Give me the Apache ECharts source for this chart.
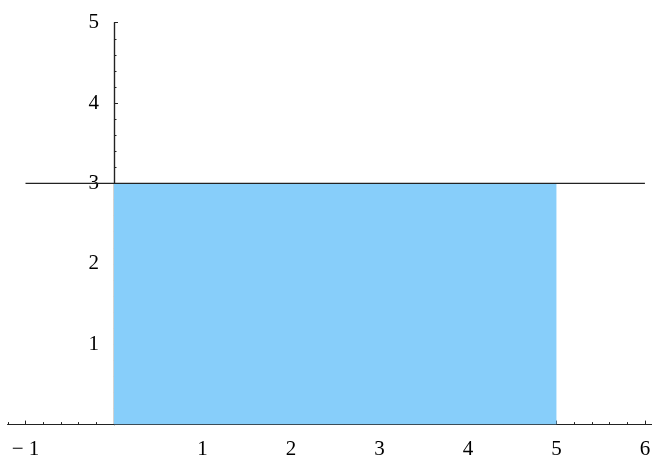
<!DOCTYPE html>
<html>
<head>
<meta charset="utf-8">
<script src="https://cdn.jsdelivr.net/npm/echarts@6/dist/echarts.min.js"></script>
<style>
html,body{margin:0;padding:0;background:#fff;}
#main{width:652px;height:457px;}
</style>
</head>
<body>
<div id="main"></div>
<script>
// Data
const rectX = [0, 5];
const rectY = [3, 3];
const lineX = [-1, 6];
const lineY = [3, 3];
const xTickLabels = [-1, 1, 2, 3, 4, 5, 6];
const yTickLabels = [1, 2, 3, 4, 5];
const xMinorTicks = [];
for (let i = -6; i <= 30; i++) { if (i % 5 !== 0) xMinorTicks.push(i / 5); }
const yMinorTicks = [];
for (let i = 1; i <= 25; i++) { if (i % 5 !== 0) yMinorTicks.push(i / 5); }

const axisColor = '#222';
const fontFam = "'Liberation Serif','Times New Roman',serif";
const gridLeft = 7.8;
const xMin = -1.2, xMax = 6.08;
const gridW = 652 - gridLeft;
const yAxisOffset = -((0 - xMin) / (xMax - xMin) * gridW);

const chart = echarts.init(document.getElementById('main'), null, {renderer: 'canvas'});
const baseX = {
  type: 'value', min: xMin, max: xMax, position: 'bottom',
  splitLine: {show: false},
  axisLine: {show: true, onZero: false, lineStyle: {color: axisColor, width: 1.2}},
};
const baseY = {
  type: 'value', min: 0, max: 5, position: 'left', offset: yAxisOffset,
  splitLine: {show: false},
  axisLine: {show: true, onZero: false, lineStyle: {color: axisColor, width: 1.2}},
};
chart.setOption({
  animation: false,
  grid: {left: gridLeft, right: 0, top: 22.7, bottom: 32.4, containLabel: false, outerBoundsMode: 'none'},
  xAxis: [
    Object.assign({}, baseX, {
      axisTick: {show: true, inside: true, length: 4, customValues: xTickLabels, lineStyle: {color: axisColor, width: 1}},
      axisLabel: {show: true, customValues: xTickLabels, margin: 14, color: '#000', fontSize: 21, fontFamily: fontFam,
        formatter: v => String(v).replace('-', '\u2212 ')}
    }),
    Object.assign({}, baseX, {
      axisTick: {show: true, inside: true, length: 2.5, customValues: xMinorTicks, lineStyle: {color: axisColor, width: 1}},
      axisLabel: {show: false}
    })
  ],
  yAxis: [
    Object.assign({}, baseY, {
      axisTick: {show: true, inside: true, length: 4, customValues: yTickLabels, lineStyle: {color: axisColor, width: 1}},
      axisLabel: {show: true, customValues: yTickLabels, margin: 15, color: '#000', fontSize: 21, fontFamily: fontFam}
    }),
    Object.assign({}, baseY, {
      axisTick: {show: true, inside: true, length: 2.5, customValues: yMinorTicks, lineStyle: {color: axisColor, width: 1}},
      axisLabel: {show: false}
    })
  ],
  series: [
    {
      type: 'line', xAxisIndex: 0, yAxisIndex: 0, z: 1,
      data: rectX.map((x, i) => [x, rectY[i]]),
      symbol: 'none', lineStyle: {width: 0, opacity: 0},
      areaStyle: {color: '#87CEFA', opacity: 1}
    },
    {
      type: 'line', xAxisIndex: 0, yAxisIndex: 0, z: 3,
      data: lineX.map((x, i) => [x, lineY[i]]),
      symbol: 'none', lineStyle: {width: 1.3, color: '#222'}
    }
  ]
});
</script>
</body>
</html>
